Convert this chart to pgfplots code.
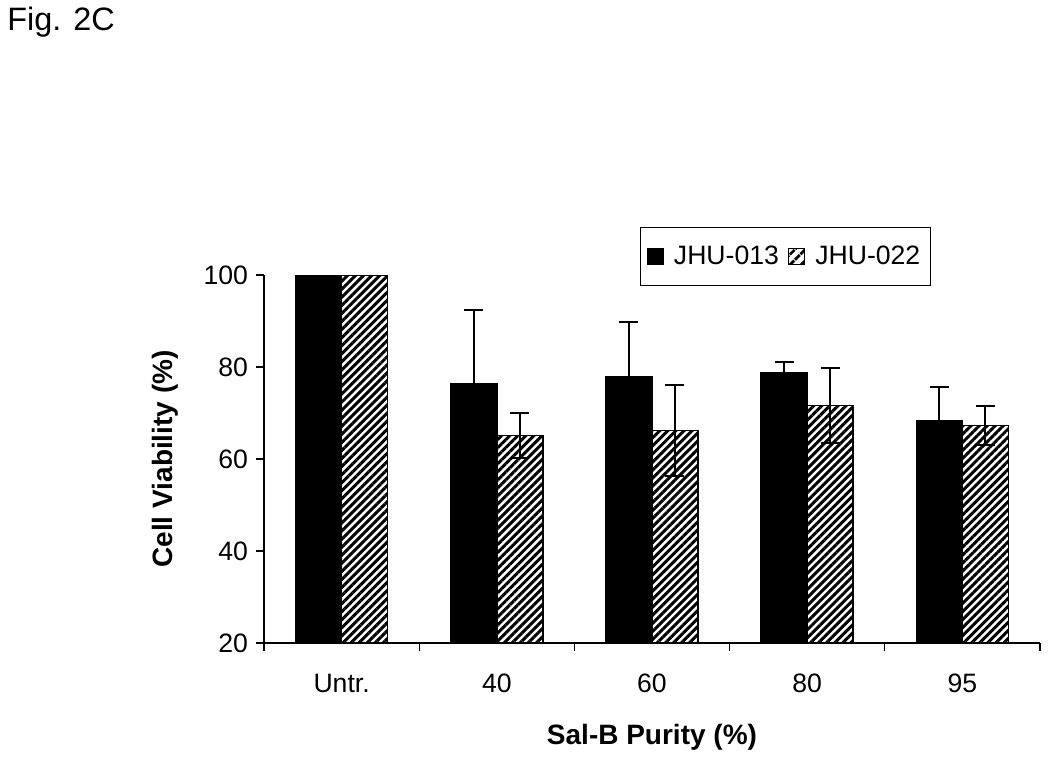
\documentclass[border=0pt]{standalone}
\usepackage{fontspec}
\setmainfont{Liberation Sans}
\usepackage{pgfplots}
\pgfplotsset{compat=1.18}
\usetikzlibrary{patterns.meta}
\begin{document}
\begin{tikzpicture}
\path[use as bounding box] (0,0) rectangle (525pt,380pt);
\node[anchor=north west, font=\fontsize{16.2}{19}\selectfont, inner sep=0pt] at (3.5pt,376.5pt) {Fig. 2C};
\begin{axis}[
  at={(132pt,58.5pt)}, anchor=south west,
  scale only axis, width=388pt, height=184pt,
  ybar=0pt, bar width=23pt,
  xmin=-0.5, xmax=4.5, ymin=20, ymax=100,
  axis x line*=bottom, axis y line*=left,
  axis line style={-, line width=0.6pt},
  xtick={0,...,4}, xticklabels={Untr.,40,60,80,95},
  major x tick style={draw=none},
  minor xtick={-0.5,0.5,...,4.5},
  ytick={20,40,...,100},
  tick align=outside, major tick length=4pt, minor tick length=4pt,
  tick style={line width=0.6pt, black},
  /pgf/number format/assume math mode=true,
  ticklabel style={font=\fontsize{13.3}{16}\selectfont},
  xticklabel style={yshift=-8pt},
  yticklabel style={xshift=-0.5pt},
  xlabel={Sal-B Purity (\%)},
  ylabel={Cell Viability (\%)},
  label style={font=\fontsize{14}{16}\selectfont\bfseries},
  xlabel style={at={(axis description cs:0.5,-0.2554)}, anchor=center},
  ylabel style={at={(axis description cs:-0.1276,0.5)}, anchor=center},
  legend columns=2,
  legend style={at={(axis description cs:0.4845,1.1304)}, anchor=north west,
    draw=black, line width=0.6pt, font=\fontsize{13.3}{15}\selectfont,
    inner xsep=3pt, inner ysep=7pt,
    /tikz/every even column/.append style={column sep=2pt}},
  error bars/error bar style={line width=1pt, black},
  error bars/error mark options={rotate=90, mark size=4.75pt, line width=1pt, black},
]
\addplot[fill=black, draw=black, line width=0.8pt,
  legend image code/.code={\draw[fill=black, draw=black, line width=0.6pt] (0pt,-4pt) rectangle (8pt,4pt); \path (11pt,0pt);},
  error bars/.cd, y dir=plus, y explicit]
  coordinates {(0,100) +- (0,0) (1,76.3) +- (0,16.0) (2,77.9) +- (0,11.9) (3,78.8) +- (0,2.3) (4,68.3) +- (0,7.3)};
\addplot[draw=black, line width=0.8pt, pattern={Lines[angle=45,distance=2.85pt,line width=1.5pt]}, pattern color=black,
  legend image code/.code={\draw[draw=black, line width=0.8pt, pattern={Lines[angle=45,distance=4pt,line width=1.6pt]}, pattern color=black] (0pt,-4pt) rectangle (8pt,4pt); \path (11pt,0pt);},
  error bars/.cd, y dir=both, y explicit]
  coordinates {(0,100) +- (0,0) (1,65.1) +- (0,4.9) (2,66.2) +- (0,9.9) (3,71.6) +- (0,8.2) (4,67.3) +- (0,4.3)};
\legend{JHU-013, JHU-022}
\end{axis}
\end{tikzpicture}
\end{document}
